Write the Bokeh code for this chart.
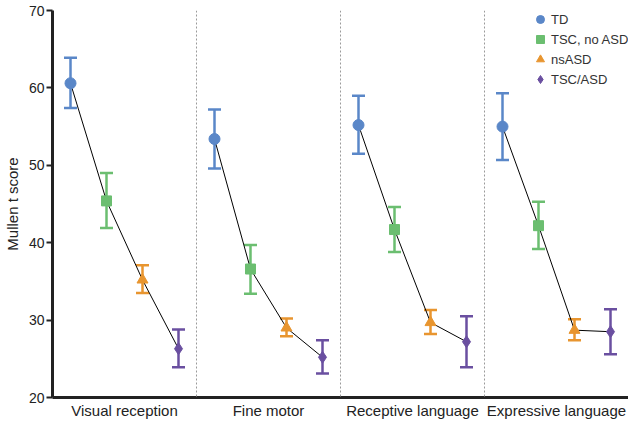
from bokeh.plotting import figure
from bokeh.models import ColumnDataSource, Whisker, TeeHead, Span, FixedTicker, Range1d, Legend, LegendItem
from bokeh.embed import file_html
from bokeh.resources import INLINE

domains = ["Visual reception", "Fine motor", "Receptive language", "Expressive language"]
groups = ["TD", "TSC, no ASD", "nsASD", "TSC/ASD"]

td_mean = [60.6, 53.4, 55.2, 55.0]
td_lo = [57.4, 49.6, 51.5, 50.7]
td_hi = [63.9, 57.2, 59.0, 59.3]

tsc_mean = [45.4, 36.6, 41.7, 42.2]
tsc_lo = [41.9, 33.4, 38.8, 39.2]
tsc_hi = [49.0, 39.7, 44.6, 45.3]

ns_mean = [35.2, 29.0, 29.7, 28.7]
ns_lo = [33.5, 27.9, 28.2, 27.4]
ns_hi = [37.1, 30.2, 31.3, 30.1]

asd_mean = [26.3, 25.2, 27.2, 28.5]
asd_lo = [23.9, 23.1, 23.9, 25.6]
asd_hi = [28.8, 27.4, 30.5, 31.4]

y_ticks = [20, 30, 40, 50, 60, 70]

colors = ["#5A87C8", "#6BBE70", "#E8952F", "#6A4FA0"]
markers = ["circle", "square", "triangle", "diamond"]
sizes = [11, 10, 11, 12]

series = [
    (td_mean, td_lo, td_hi),
    (tsc_mean, tsc_lo, tsc_hi),
    (ns_mean, ns_lo, ns_hi),
    (asd_mean, asd_lo, asd_hi),
]

n_dom = len(domains)
n_grp = len(groups)
offsets = [(j + 0.5) / n_grp for j in range(n_grp)]

p = figure(width=628, height=421, output_backend="svg", toolbar_location=None,
           x_range=Range1d(0, n_dom), y_range=Range1d(y_ticks[0], y_ticks[-1]),
           min_border_left=49, min_border_right=0, min_border_top=10, min_border_bottom=24)
p.outline_line_color = None
p.xgrid.visible = False
p.ygrid.visible = False
p.background_fill_color = "white"

# dividers between domains
for k in range(1, n_dom):
    p.add_layout(Span(location=k, dimension="height", line_color="#9a9a9a",
                      line_width=1, line_dash="2 2"))

# connecting lines per domain
xs_lines = []
ys_lines = []
for i in range(n_dom):
    xs_lines.append([i + offsets[j] for j in range(n_grp)])
    ys_lines.append([series[j][0][i] for j in range(n_grp)])
p.multi_line(xs_lines, ys_lines, line_color="black", line_width=1)

items = []
for j, (m, lo, hi) in enumerate(series):
    xs = [i + offsets[j] for i in range(n_dom)]
    src = ColumnDataSource(dict(x=xs, y=m, lo=lo, hi=hi))
    w = Whisker(base="x", lower="lo", upper="hi", source=src, dimension="height",
                line_color=colors[j], line_width=2.5,
                upper_head=TeeHead(size=13, line_color=colors[j], line_width=2.5),
                lower_head=TeeHead(size=13, line_color=colors[j], line_width=2.5))
    p.add_layout(w)
    r = p.scatter("x", "y", source=src, marker=markers[j], size=sizes[j],
                  fill_color=colors[j], line_color=colors[j])
    items.append(LegendItem(label=groups[j], renderers=[r]))

legend = Legend(items=items, location=(477, 308), border_line_color=None,
                background_fill_alpha=0, label_text_font="Liberation Sans",
                label_text_font_size="13px", label_text_color="#333333",
                glyph_width=22, glyph_height=20, label_standoff=0, spacing=0,
                padding=0, margin=0, label_height=14)
p.add_layout(legend)

# axes
p.xaxis.ticker = FixedTicker(ticks=[i + 0.5 for i in range(n_dom)])
p.xaxis.major_label_overrides = {i + 0.5: domains[i] for i in range(n_dom)}
p.xaxis.major_tick_line_color = None
p.xaxis.major_tick_out = 0
p.xaxis.major_tick_in = 0
p.xaxis.minor_tick_line_color = None
p.xaxis.axis_line_width = 3
p.xaxis.axis_line_color = "#222222"
p.xaxis.major_label_text_font = "Liberation Sans"
p.xaxis.major_label_text_font_size = "15px"
p.xaxis.major_label_text_color = "#222222"
p.xaxis.major_label_standoff = 4

p.yaxis.ticker = FixedTicker(ticks=y_ticks)
p.yaxis.axis_label = "Mullen t score"
p.yaxis.axis_label_text_font = "Liberation Sans"
p.yaxis.axis_label_text_font_style = "normal"
p.yaxis.axis_label_text_font_size = "15px"
p.yaxis.axis_label_text_color = "#222222"
p.yaxis.axis_label_standoff = 5
p.yaxis.axis_line_width = 3
p.yaxis.axis_line_color = "#222222"
p.yaxis.major_tick_line_width = 2
p.yaxis.major_tick_line_color = "#222222"
p.yaxis.major_tick_out = 6
p.yaxis.major_tick_in = 0
p.yaxis.minor_tick_line_color = None
p.yaxis.major_label_text_font = "Liberation Sans"
p.yaxis.major_label_text_font_size = "14px"
p.yaxis.major_label_text_color = "#222222"
p.yaxis.major_label_standoff = 2

open("out.html", "w").write(file_html(p, INLINE))
